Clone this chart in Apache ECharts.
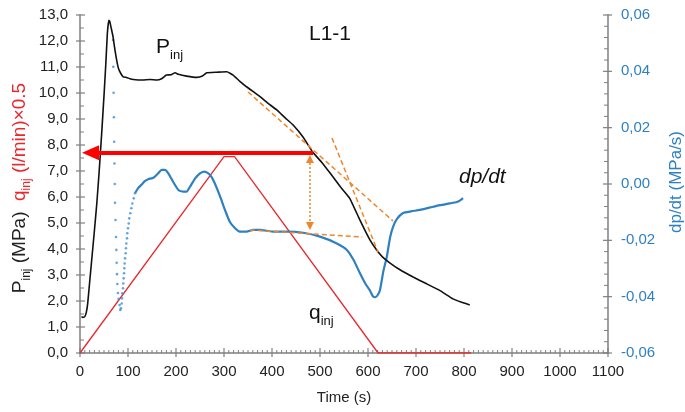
<!DOCTYPE html>
<html><head><meta charset="utf-8">
<script src="https://cdn.jsdelivr.net/npm/echarts@6/dist/echarts.min.js"></script>
<style>html,body{margin:0;padding:0;background:#fff}#c{width:685px;height:412px}</style>
</head><body><div id="c"></div>
<script>
// ---- data (time s, value) ----
const pinj = [[3,1.40],[6,1.37],[10,1.40],[13,1.55],[16,1.9],[20,2.7],[25,3.7],[30,4.7],[35,5.75],[40,7.0],[45,8.4],[50,9.9],[54,11.2],[57,12.3],[60,12.8],[62,12.75],[65,12.5],[69,12.15],[72,11.75],[76,11.3],[80,10.95],[85,10.75],[90,10.62],[97,10.6],[104,10.55],[111,10.52],[130,10.5],[146,10.52],[160,10.5],[170,10.55],[180,10.69],[190,10.7],[198,10.78],[205,10.72],[222,10.65],[243,10.6],[255,10.65],[264,10.78],[285,10.8],[306,10.82],[319,10.69],[333,10.45],[347,10.24],[361,10.05],[375,9.86],[392,9.6],[410,9.35],[427,9.05],[444,8.77],[465,8.3],[485,7.72],[503,7.35],[521,6.92],[542,6.4],[562,5.95],[583,5.12],[604,4.35],[618,3.96],[630,3.7],[646,3.46],[665,3.22],[694,2.92],[720,2.68],[750,2.4],[777,2.08],[795,1.95],[812,1.85]];
const qinj = [[0,0],[300,7.55],[322,7.55],[621,0],[815,0]];
const dpdtDots = [[68.8,0.0511],[69.4,0.0416],[70.0,0.0324],[70.6,0.0237],[71.2,0.0150],[71.8,0.0073],[72.4,0.0],[73.0,-0.0067],[74.0,-0.0128],[75.0,-0.0188],[75.7,-0.0234],[76.4,-0.0280],[77.1,-0.0320],[77.8,-0.0355],[79.0,-0.0387],[80.5,-0.0408],[82.5,-0.0430],[84.0,-0.0447],[85.4,-0.0441],[86.9,-0.0424],[87.5,-0.0406],[88.1,-0.0388],[89.6,-0.0370],[90.2,-0.0353],[91.0,-0.0335],[91.7,-0.0317],[92.3,-0.0299],[93.1,-0.0282],[93.8,-0.0264],[95.2,-0.0246],[95.8,-0.0228],[96.5,-0.0211],[97.9,-0.0193],[98.5,-0.0175],[100,-0.0157],[101.5,-0.0140],[102.7,-0.0122],[104.8,-0.0104],[106.9,-0.0086],[109,-0.0069],[111.9,-0.0051],[114.6,-0.0033]];
const dpdtLine = [[114.6,-0.0033],[121.5,-0.0014],[128.5,-0.0002],[135,0.0010],[142,0.0017],[153,0.0022],[163,0.0038],[170,0.0050],[177,0.0050],[184,0.0038],[194,0.0008],[205,-0.0021],[215,-0.0027],[222,-0.0027],[229,-0.0010],[240,0.0020],[250,0.0038],[260,0.0044],[271,0.0032],[281,0.0002],[292,-0.0045],[302,-0.0092],[312,-0.0134],[323,-0.0157],[333,-0.0169],[347,-0.0169],[361,-0.0163],[375,-0.0163],[389,-0.0166],[403,-0.0169],[417,-0.0169],[431,-0.0169],[465,-0.0173],[500,-0.0187],[535,-0.0211],[556,-0.0234],[570,-0.0270],[583,-0.0316],[595,-0.0355],[604,-0.0378],[610,-0.0398],[615,-0.0402],[620,-0.0395],[625,-0.0376],[632,-0.031],[639,-0.026],[646,-0.019],[652,-0.0153],[660,-0.0125],[673,-0.0103],[690,-0.0097],[708,-0.0092],[730,-0.0083],[750,-0.0075],[770,-0.0069],[785,-0.0064],[792,-0.0058],[798,-0.0050]];
// annotation lines
const tangentA = [[350,10.04],[652,5.08]];
const tangentB = [[525,8.27],[621,3.88]];
const plateauLine = [[354,-0.0163],[588,-0.0188]];
const redArrow = [[486,7.70],[22,7.70]];
const orangeArrow = [[479,7.46],[479,4.88]];
// axis ranges [min, max, major interval, minor divisions]
const xRange = [0,1100,100,10];
const leftRange = [0,13,1,2];
const rightRange = [-0.06,0.06,0.02,5];

const FONT = '"Liberation Sans", Arial, sans-serif';
const AX = '#7f7f7f';
const BLUE = '#2f80c3';
const RED = '#e8282d';
const ORANGE = '#f0862a';
const comma = d => v => v.toFixed(d).replace('.', ',');

// tick positions (axis structure) built from the ranges
function tickList(r) {
  const out = [];
  const steps = Math.round((r[1]-r[0])/r[2]*r[3]);
  for (let i = 0; i <= steps; i++) out.push([+(r[0] + i*r[2]/r[3]).toFixed(6), i % r[3] === 0 ? 1 : 0]);
  return out;
}
const xTicks = tickList(xRange).map(t => [t[0], leftRange[0], t[1]]);
const leftTicks = tickList(leftRange).map(t => [xRange[0], t[0], t[1]]);
const rightTicks = tickList(rightRange).map(t => [xRange[1], t[0], t[1]]);

function tickRenderer(dir) {
  return function (params, api) {
    const p = api.coord([api.value(0), api.value(1)]);
    const major = api.value(2) === 1;
    const inL = major ? 5 : (dir === 'x' ? 3 : 4), outL = major ? 4 : 0;
    let shape;
    if (dir === 'x') shape = {x1:p[0], y1:p[1]-inL, x2:p[0], y2:p[1]+outL};
    else if (dir === 'l') shape = {x1:p[0]-outL, y1:p[1], x2:p[0]+inL, y2:p[1]};
    else shape = {x1:p[0]-inL, y1:p[1], x2:p[0]+outL, y2:p[1]};
    return {type:'line', shape:shape, style:{stroke:AX, lineWidth:major?1.2:1}};
  };
}

const chart = echarts.init(document.getElementById('c'));
const subText = (txt, fill, big, small) => ({
  text:txt,
  rich:{a:{fontSize:big,fill:fill,fontFamily:FONT,lineHeight:big+7},b:{fontSize:small,fill:fill,fontFamily:FONT,verticalAlign:'bottom'}}
});

chart.setOption({
  animation:false,
  grid:{left:80,right:77,top:15,bottom:59},
  xAxis:{type:'value',min:xRange[0],max:xRange[1],interval:xRange[2],
     name:'Time (s)',nameLocation:'middle',nameGap:37,
     nameTextStyle:{fontSize:15,color:'#222',fontFamily:FONT},
     axisLine:{onZero:false,lineStyle:{color:AX,width:1.5}},
     axisTick:{show:false},
     axisLabel:{fontSize:15,color:'#222',fontFamily:FONT,margin:11,formatter:v=>String(v)},
     splitLine:{show:false}},
  yAxis:[
    {type:'value',min:leftRange[0],max:leftRange[1],interval:leftRange[2],position:'left',
     axisLine:{show:true,onZero:false,lineStyle:{color:AX,width:1.5}},
     axisTick:{show:false},
     axisLabel:{fontSize:15,color:'#222',fontFamily:FONT,margin:12,formatter:comma(1)},
     splitLine:{show:false}},
    {type:'value',min:rightRange[0],max:rightRange[1],interval:rightRange[2],position:'right',
     axisLine:{show:true,onZero:false,lineStyle:{color:AX,width:1.5}},
     axisTick:{show:false},
     axisLabel:{fontSize:15,color:BLUE,fontFamily:FONT,margin:13,formatter:comma(2)},
     splitLine:{show:false}}
  ],
  series:[
    {type:'custom',data:xTicks,yAxisIndex:0,renderItem:tickRenderer('x'),clip:false,silent:true,z:1},
    {type:'custom',data:leftTicks,yAxisIndex:0,renderItem:tickRenderer('l'),clip:false,silent:true,z:1},
    {type:'custom',data:rightTicks,yAxisIndex:1,renderItem:tickRenderer('r'),clip:false,silent:true,z:1},
    {type:'line',name:'qinj',data:qinj,yAxisIndex:0,symbol:'none',lineStyle:{color:RED,width:1.3},silent:true,z:2},
    {type:'line',name:'dpdt',data:dpdtLine,yAxisIndex:1,symbol:'none',smooth:0.2,lineStyle:{color:BLUE,width:2.2},silent:true,z:3},
    {type:'scatter',name:'dpdtDots',data:dpdtDots,yAxisIndex:1,symbol:'circle',symbolSize:2.6,itemStyle:{color:'#3d8fd2'},silent:true,z:3},
    {type:'line',name:'pinj',data:pinj,yAxisIndex:0,symbol:'none',smooth:0.1,lineStyle:{color:'#111',width:1.6},silent:true,z:4},
    {type:'line',data:tangentA,yAxisIndex:0,symbol:'none',lineStyle:{color:ORANGE,width:1.5,type:[5,3]},silent:true,z:5},
    {type:'line',data:tangentB,yAxisIndex:0,symbol:'none',lineStyle:{color:ORANGE,width:1.5,type:[5,3]},silent:true,z:5},
    {type:'line',data:plateauLine,yAxisIndex:1,symbol:'none',lineStyle:{color:ORANGE,width:1.5,type:[5,3]},silent:true,z:5},
    {type:'line',data:[],yAxisIndex:0,silent:true,z:6,
     markLine:{silent:true,animation:false,label:{show:false},emphasis:{disabled:true},
       data:[
         [{coord:redArrow[0],symbol:'none',lineStyle:{color:'#ff0000',width:4,type:'solid'}},
          {coord:redArrow[1],symbol:'triangle',symbolSize:[15,17]}],
         [{coord:orangeArrow[0],symbol:'triangle',symbolSize:8,lineStyle:{color:ORANGE,width:1.5,type:[2,2]}},
          {coord:orangeArrow[1],symbol:'triangle',symbolSize:8}]
       ]}}
  ],
  graphic:[
    {type:'text',x:20,y:188,rotation:Math.PI/2,style:{
      text:'{p|P}{ps|inj}{p| (MPa)  }{q|q}{qs|inj}{q| (l/min)×0.5}',align:'center',verticalAlign:'middle',
      rich:{p:{fontSize:19,fill:'#222',fontFamily:FONT,lineHeight:26},ps:{fontSize:12,fill:'#222',fontFamily:FONT,verticalAlign:'bottom'},
            q:{fontSize:19,fill:RED,fontFamily:FONT,lineHeight:26},qs:{fontSize:12,fill:RED,fontFamily:FONT,verticalAlign:'bottom'}}}},
    {type:'text',x:676,y:182,rotation:Math.PI/2,style:{text:'dp/dt (MPa/s)',align:'center',verticalAlign:'middle',fontSize:17,fill:BLUE,fontFamily:FONT}},
    {type:'text',left:156,top:37,style:subText('{a|P}{b|inj}','#111',21,13)},
    {type:'text',left:309,top:24,style:{text:'L1-1',fontSize:21,fill:'#111',fontFamily:FONT}},
    {type:'text',left:459,top:167,style:{text:'dp/dt',fontSize:21,fontStyle:'italic',fill:'#111',fontFamily:FONT}},
    {type:'text',left:309,top:303,style:subText('{a|q}{b|inj}','#111',21,13)}
  ]
});
</script></body></html>
